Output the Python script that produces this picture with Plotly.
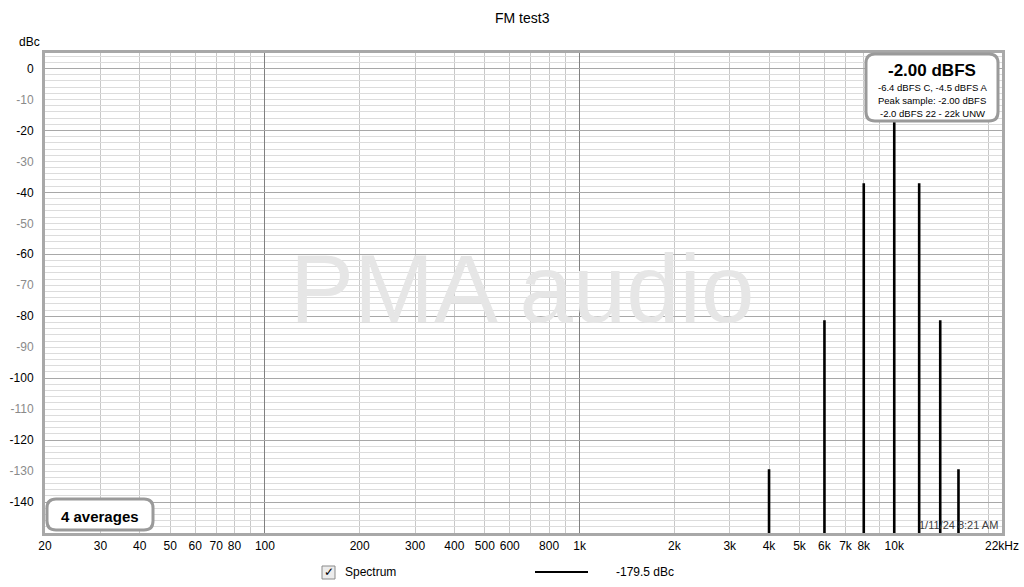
import plotly.graph_objects as go

# ---- data ----
spike_freqs_hz = [4000, 6000, 8000, 10000, 12000, 14000, 16000]
spike_levels_dbc = [-129.4, -81.3, -37.1, 0.0, -37.1, -81.3, -129.4]
noise_floor_dbc = -179.5
x_tick_vals = [20, 30, 40, 50, 60, 70, 80, 100, 200, 300, 400, 500, 600, 800,
               1000, 2000, 3000, 4000, 5000, 6000, 7000, 8000, 10000, 22000]
x_tick_text = ["20", "30", "40", "50", "60", "70", "80", "100", "200", "300", "400",
               "500", "600", "800", "1k", "2k", "3k", "4k", "5k", "6k", "7k", "8k",
               "10k", "22kHz"]
y_tick_vals = list(range(0, -141, -10))
info_title = "-2.00 dBFS"
info_lines = ["-6.4 dBFS C, -4.5 dBFS A", "Peak sample: -2.00 dBFS", "-2.0 dBFS 22 - 22k UNW"]

# ---- geometry ----
W, H = 1024, 587
L, R, T, B = 45, 22, 53, 54
PW, PH = W - L - R, H - T - B
def px(x): return (x - L) / PW
def py(y): return (H - B - y) / PH

# spectrum trace: floor with spikes
xs, ys = [20], [noise_floor_dbc]
for f, lv in zip(spike_freqs_hz, spike_levels_dbc):
    xs += [f, f, f]
    ys += [noise_floor_dbc, lv, noise_floor_dbc]
xs.append(22000); ys.append(noise_floor_dbc)

minor_x = []
for dec in [10, 100, 1000, 10000]:
    for m in range(1, 10):
        v = dec * m
        if 20 <= v <= 22000:
            minor_x.append(v)

y_text = []
for v in y_tick_vals:
    if v % 20 == 0:
        y_text.append('<span style="color:#000000">%d</span>' % v)
    else:
        y_text.append('<span style="color:#8a8a8a">%d</span>' % v)

FONT = "Liberation Sans, Arial, sans-serif"

fig = go.Figure()
fig.add_trace(go.Scatter(x=xs, y=ys, mode="lines", line=dict(color="black", width=2.6),
                         showlegend=False, hoverinfo="skip"))
fig.add_trace(go.Scatter(x=[], y=[], xaxis="x2", yaxis="y2", showlegend=False))

xr = [1.30103, 4.342423]
yr = [-150, 5]

fig.update_layout(
    width=W, height=H,
    margin=dict(l=L, r=R, t=T, b=B, autoexpand=False),
    paper_bgcolor="white", plot_bgcolor="white",
    font=dict(family=FONT, size=12, color="black"),
    title=dict(text="FM test3", x=0.51, xanchor="center", y=1 - 18 / H, yanchor="middle",
               font=dict(size=14, color="black")),
    xaxis=dict(type="log", range=xr, tickmode="array", tickvals=x_tick_vals, ticktext=x_tick_text,
               showgrid=False, zeroline=False, ticks="", tickfont=dict(size=12),
               showline=True, linecolor="#a8a8a8", linewidth=3, mirror=True,
               minor=dict(tickmode="array", tickvals=minor_x, showgrid=True,
                          gridcolor="#c8c8c8", gridwidth=1, ticks="")),
    yaxis=dict(range=yr, tickmode="array", tickvals=y_tick_vals, ticktext=y_text,
               showgrid=True, gridcolor="#dcdcdc", zeroline=False, ticks="",
               tickfont=dict(size=12, color="black"), ticklabelstandoff=6,
               showline=True, linecolor="#a8a8a8", linewidth=3, mirror=True,
               minor=dict(dtick=2, tick0=0, showgrid=True, gridcolor="#dcdcdc", ticks="")),
    xaxis2=dict(type="log", range=xr, overlaying="x", anchor="y", tickmode="array",
                tickvals=[100, 1000, 10000], showticklabels=False, ticks="",
                showgrid=True, gridcolor="#808080", gridwidth=1, zeroline=False),
    yaxis2=dict(range=yr, overlaying="y", anchor="x", tickmode="array",
                tickvals=list(range(0, -141, -20)), showticklabels=False, ticks="",
                showgrid=True, gridcolor="#a8a8a8", gridwidth=1, zeroline=False),
)

def rounded_rect(x0, y0, x1, y1, r):
    X = lambda v: px(v)
    Y = lambda v: py(v)
    p = (f"M {X(x0+r)},{Y(y0)} L {X(x1-r)},{Y(y0)} Q {X(x1)},{Y(y0)} {X(x1)},{Y(y0+r)} "
         f"L {X(x1)},{Y(y1-r)} Q {X(x1)},{Y(y1)} {X(x1-r)},{Y(y1)} "
         f"L {X(x0+r)},{Y(y1)} Q {X(x0)},{Y(y1)} {X(x0)},{Y(y1-r)} "
         f"L {X(x0)},{Y(y0+r)} Q {X(x0)},{Y(y0)} {X(x0+r)},{Y(y0)} Z")
    return p

shapes = [
    dict(type="path", xref="paper", yref="paper", path=rounded_rect(866, 54, 998, 121, 9),
         line=dict(color="#9a9a9a", width=3), fillcolor="white", layer="above"),
    dict(type="path", xref="paper", yref="paper", path=rounded_rect(47, 499, 153, 530, 9),
         line=dict(color="#9a9a9a", width=3), fillcolor="white", layer="above"),
    dict(type="rect", xref="paper", yref="paper", x0=px(322), x1=px(335), y0=py(579), y1=py(566),
         line=dict(color="#8a8a8a", width=1), fillcolor="#ececec"),
    dict(type="line", xref="paper", yref="paper", x0=px(535), x1=px(588), y0=py(572), y1=py(572),
         line=dict(color="black", width=2)),
]
fig.update_layout(shapes=shapes)

ann = []
def A(text, x, y, size=12, color="black", xanchor="center", **kw):
    ann.append(dict(text=text, x=px(x), y=py(y), xref="paper", yref="paper", showarrow=False,
                    xanchor=xanchor, yanchor="middle", font=dict(size=size, color=color, family=FONT), **kw))

A("PMA audio", 522, 288, size=96, color="#e6e6e6")
A("dBc", 29, 42, size=12)
A("<b>%s</b>" % info_title, 932, 71, size=17)
for i, t in enumerate(info_lines):
    A(t, 932, 88 + i * 12.5, size=9.5)
A("<b>4 averages</b>", 100, 516, size=15)
A("1/11/24 8:21 AM", 1000, 525, size=11, color="#404040", xanchor="right")
A("✓", 328.5, 572, size=12, color="black")
A("Spectrum", 343, 572, size=12, xanchor="left")
A("-179.5 dBc", 614, 572, size=12, xanchor="left")
fig.update_layout(annotations=ann)

fig.write_html("out.html", config={"displayModeBar": False},
               post_script="document.body.style.margin='0px';document.body.style.overflow='hidden';")
